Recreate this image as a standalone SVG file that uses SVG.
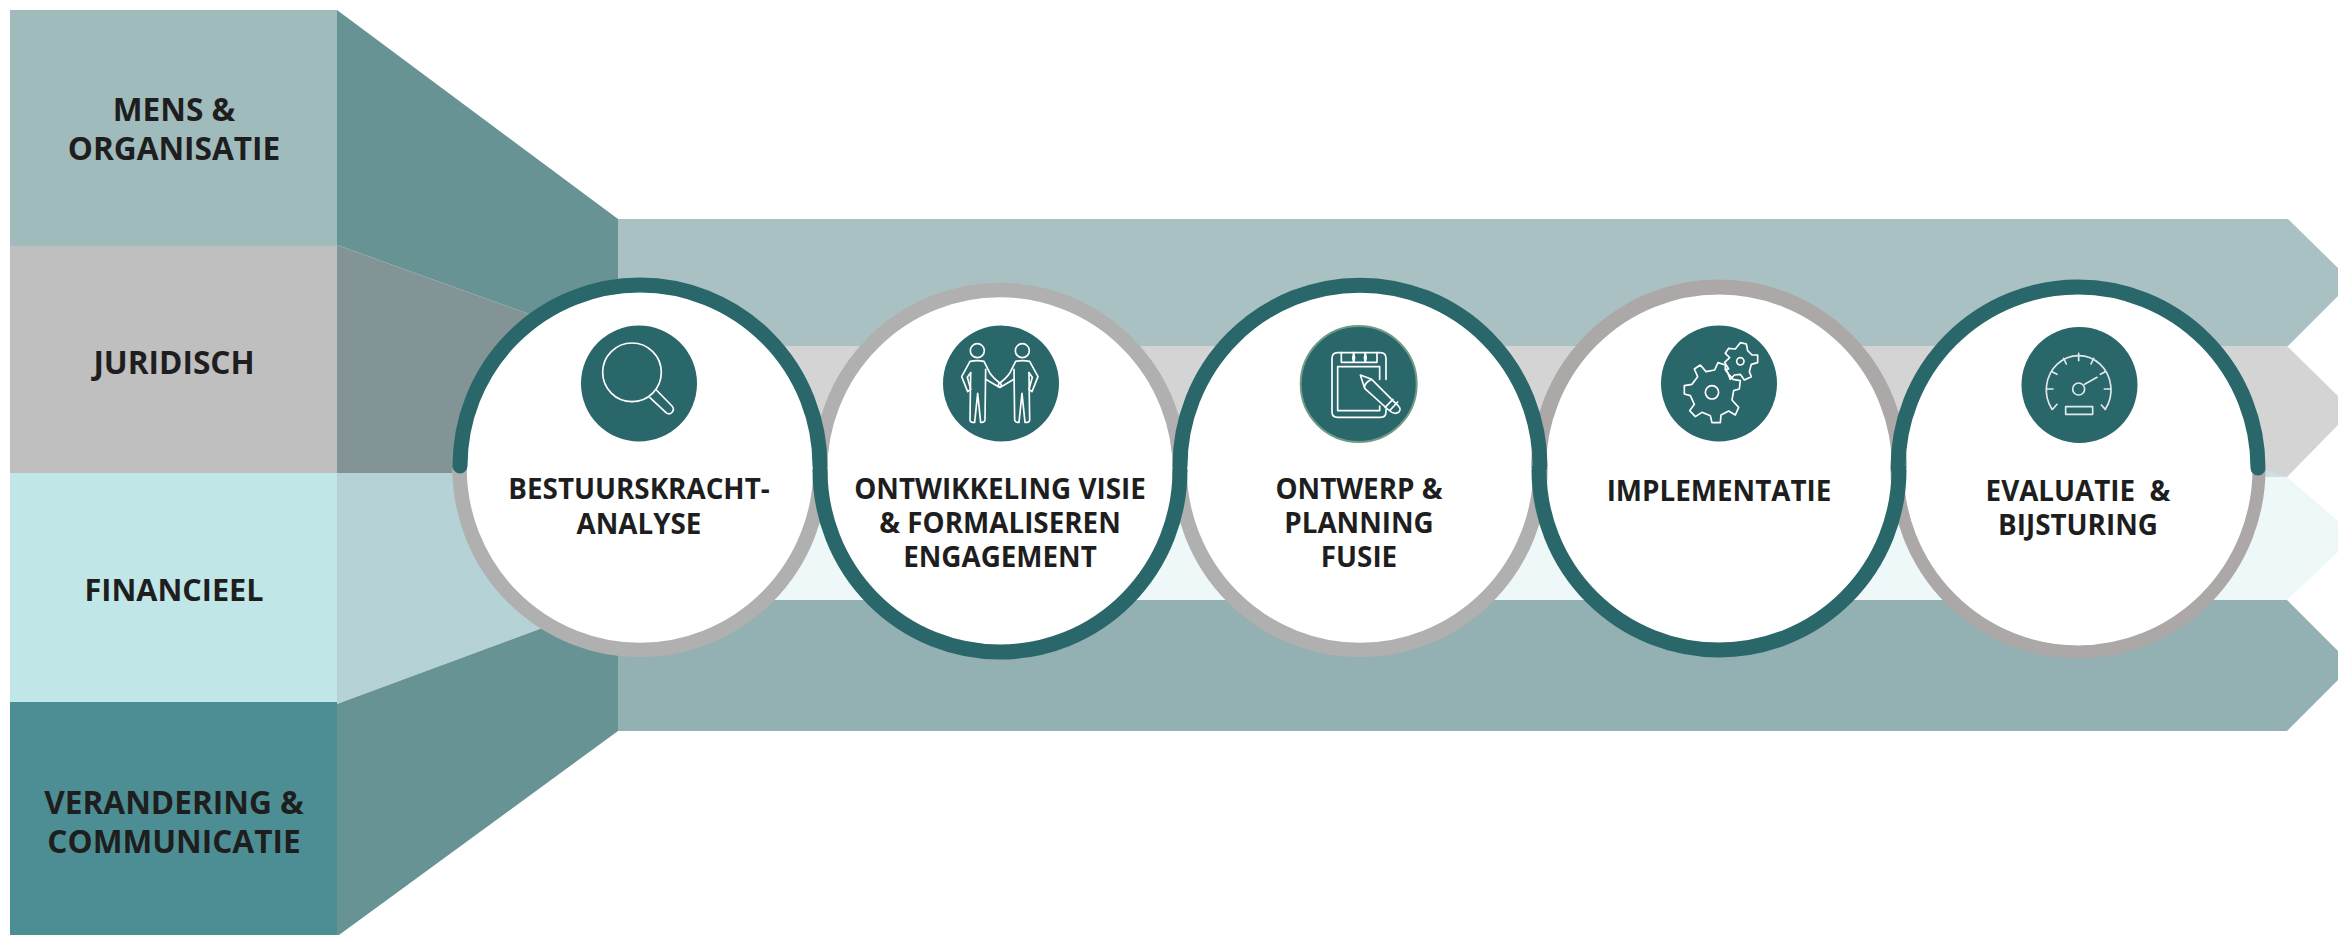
<svg xmlns="http://www.w3.org/2000/svg" width="2338" height="935" viewBox="0 0 2338 935">
<style>
text{font-family:"Open Sans","Liberation Sans",sans-serif;font-weight:700;fill:#1e1e1e;text-anchor:middle}
.l{font-size:31.600px}
.c{font-size:27.8px}
.disc{fill:#2a676a}
.w{fill:none;stroke:#fff;stroke-width:5;stroke-linejoin:round;stroke-linecap:round}
.ring{fill:#fff}
.dark{fill:none;stroke:#2a676a;stroke-width:15;stroke-linecap:round}
.grey{fill:none;stroke:#b0b0b0;stroke-width:14.5}
.grey2{fill:none;stroke:#aca8a8;stroke-width:13}
</style>
<rect width="2338" height="935" fill="#fff"/>
<g id="bands">
<polygon points="618,219 2288,219 2338,268 2338,296 2288,346 618,346" fill="#a9c1c3"/>
<polygon points="618,346 2287,346 2338,396 2338,425 2287,477 618,477" fill="#d4d4d4"/>
<polygon points="618,477 2287,477 2338,521 2338,552 2287,600 618,600" fill="#eef8f9"/>
<polygon points="618,471 2269,471 2287,477 618,477" fill="#cfdfe1"/>
<polygon points="618,600 2287,600 2338,651 2338,680 2287,731 618,731" fill="#93b0b2"/>
</g>
<g id="funnel">
<polygon points="337,10 618,219 618,346 337,245" fill="#689394"/>
<polygon points="337,245 618,346 618,477 337,473" fill="#829496"/>
<polygon points="337,473 618,473 618,600 337,704" fill="#b5d3d6"/>
<polygon points="337,704 618,600 618,731 339,935 337,935" fill="#689394"/>
</g>
<g id="mens">
<rect x="10" y="10" width="327" height="236" fill="#a0bbbc"/>
<text class="l" x="174" y="121">MENS &amp;</text>
<text class="l" x="174" y="160">ORGANISATIE</text>
</g>
<g id="juridisch">
<rect x="10" y="246" width="327" height="227" fill="#bfbfbf"/>
<text class="l" x="174" y="374">JURIDISCH</text>
</g>
<g id="financieel">
<rect x="10" y="473" width="327" height="229" fill="#c0e6e7"/>
<text class="l" x="174" y="601" style="font-size:30.6px">FINANCIEEL</text>
</g>
<g id="verandering">
<rect x="10" y="702" width="327" height="233" fill="#4d8e95"/>
<text class="l" x="174" y="814">VERANDERING &amp;</text>
<text class="l" x="174" y="853">COMMUNICATIE</text>
</g>
<g id="circle-fills">
<circle class="ring" cx="640" cy="468" r="176"/>
<circle class="ring" cx="1000" cy="471" r="175"/>
<circle class="ring" cx="1360" cy="468" r="176"/>
<circle class="ring" cx="1719" cy="468" r="175"/>
<circle class="ring" cx="2078" cy="469" r="177"/>
</g>
<g id="rings">
<path class="grey" d="M459.5 468A180.500 182 0 0 0 820.500 468"/>
<path class="grey" d="M820 471A180 181 0 0 0 1180 471" transform="rotate(180 1000 471)"/>
<path class="grey" d="M1179.500 468A180.500 182 0 0 0 1540.500 468"/>
<path class="grey2" style="stroke-width:15" d="M1538.500 468A180.500 181 0 0 1 1899.500 468"/>
<path class="grey2" d="M1897 469A181 183 0 0 0 2259 469"/>
<path class="dark" d="M460 466A180 181 0 0 1 820 466"/>
<path class="dark" d="M820 470A180 182 0 0 0 1180 470"/>
<path class="dark" d="M1180 466A180 181 0 0 1 1540 466"/>
<path class="dark" d="M1539 470A180 180 0 0 0 1899 470"/>
<path class="dark" d="M1898 468A180 181 0 0 1 2258 468"/>
</g>
<g id="step-1">
<circle class="disc" cx="639" cy="383.500" r="58"/>
<g transform="translate(560,300) scale(.3333)">
<circle class="w" cx="216" cy="217" r="88"/>
<path class="w" d="M270 293L318 338Q328 346 337 336Q344 326 336 318L289 270"/>
</g>
<text class="c" x="639" y="499">BESTUURSKRACHT-</text>
<text class="c" x="639" y="534">ANALYSE</text>
</g>
<g id="step-2">
<circle class="disc" cx="1001" cy="383.500" r="58"/>
<g transform="translate(940,320) scale(.3333)" class="w">
<circle cx="112" cy="92" r="21"/>
<circle cx="247" cy="92" r="21"/>
<path d="M92 158L82 172L92 208L83 215L65 170L90 124Q112 120 132 124L150 160Q160 175 183 192Q186 200 178 202L137 178"/><path d="M137 148L135 300Q134 308 122 307L113 220L104 307Q90 308 90 300L92 158"/>
<g transform="translate(359,0) scale(-1,1)"><path d="M92 158L82 172L92 208L83 215L65 170L90 124Q112 120 132 124L150 160Q160 175 183 192Q186 200 178 202L137 178"/><path d="M137 148L135 300Q134 308 122 307L113 220L104 307Q90 308 90 300L92 158"/></g>
</g>
<text class="c" x="1000" y="499">ONTWIKKELING VISIE</text>
<text class="c" x="1000" y="533">&amp; FORMALISEREN</text>
<text class="c" x="1000" y="567">ENGAGEMENT</text>
</g>
<g id="step-3">
<circle class="disc" cx="1358.700" cy="384" r="58" stroke="#6e9c87" stroke-width="2"/>
<g transform="translate(1297,320) scale(.3333)" class="w">
<path d="M267 178V115Q267 98 250 98H122Q105 98 105 115V275Q105 292 122 292H250Q267 292 267 275V268"/>
<path d="M133 98V127H240V98M170 98Q165 112 170 127M205 98Q200 112 205 127M170 98Q175 112 170 127M205 98Q210 112 205 127"/>
<path d="M248 178V140H122V272H248V258"/>
<path d="M190 165L224 178L296 250Q316 265 306 276Q292 286 275 270L203 205ZM264 262L288 238M278 272L302 246M203 205Q200 190 224 178"/>
</g>
<text class="c" x="1359" y="499">ONTWERP &amp;</text>
<text class="c" x="1359" y="533">PLANNING</text>
<text class="c" x="1359" y="567">FUSIE</text>
</g>
<g id="step-4">
<circle class="disc" cx="1719" cy="383.500" r="58"/>
<g transform="translate(1657,320) scale(.3333)" class="w">
<path d="M82 197L82 222L100 227L112 253L98 272L115 290L135 277L160 287L165 308L190 308L192 285L215 273L235 285L245 262L225 240L230 212L247 207L250 182L228 178L205 150L205 135L183 128L173 150L147 155L130 135L112 147L122 170L105 193Z"/>
<circle cx="165" cy="217" r="20"/>
<path d="M208 148L220 178L232 165L250 163L262 180L283 170L277 155L283 133L302 128L302 105L285 105L272 92L268 72L250 68L235 87L215 85L205 100L218 113L203 127L215 147Z"/>
<circle cx="250" cy="124" r="11"/>
</g>
<text class="c" x="1719" y="501">IMPLEMENTATIE</text>
</g>
<g id="step-5">
<circle class="disc" cx="2079.500" cy="385" r="58"/>
<g transform="translate(2017,320) scale(.3333)" class="w" style="stroke:#dfe9e9">
<path d="M105 268A97 103 0 1 1 265 268"/>
<circle cx="185" cy="207" r="18"/>
<path d="M88 207H108M262 207H282M185 100V122M105 155L120 163M140 115L148 132M230 115L222 132M265 155L250 163M107 268L120 253M265 268L253 255M203 193L240 172"/>
<rect x="146" y="260" width="81" height="23"/>
</g>
<text class="c" x="2078" y="501" xml:space="preserve">EVALUATIE  &amp;</text>
<text class="c" x="2078" y="535">BIJSTURING</text>
</g>
</svg>
